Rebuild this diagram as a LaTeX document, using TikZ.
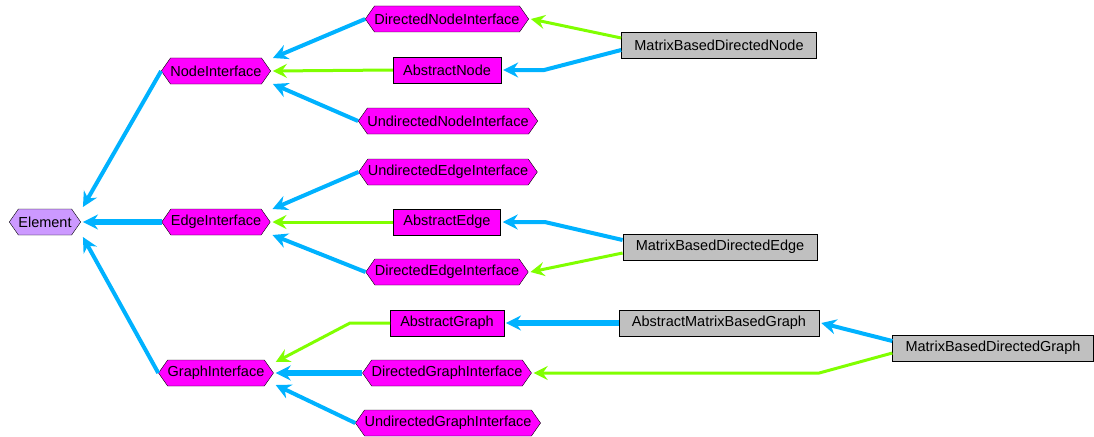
\documentclass[tikz,border=0pt]{standalone}
\usepackage{fontspec}
\setmainfont{Liberation Sans}
\usetikzlibrary{shapes.symbols,arrows.meta}

\definecolor{ifacefill}{HTML}{FF00FF}
\definecolor{rootfill}{HTML}{CC99FF}
\definecolor{implfill}{HTML}{C0C0C0}
\definecolor{extcol}{HTML}{00B2FF}
\definecolor{impcol}{HTML}{80FF00}

\begin{document}
\begin{tikzpicture}[x=1pt,y=-1pt,
  font=\fontsize{14.5}{17}\selectfont,
  iface/.style={signal, signal to=west and east, signal pointer angle=110,
    draw, fill=ifacefill, minimum height=26pt, inner xsep=0pt, inner ysep=0pt},
  root/.style={iface, fill=rootfill},
  abstr/.style={rectangle, draw, fill=ifacefill, minimum height=26pt, inner xsep=10pt},
  impl/.style={rectangle, draw, fill=implfill, minimum height=26pt, inner xsep=13pt},
  ext/.style={draw=extcol, line width=4pt, -{Stealth[length=15pt,width=15pt,inset=5pt]}},
  extthick/.style={ext, line width=6pt},
  imp/.style={draw=impcol, line width=3pt, -{Stealth[length=14pt,width=14pt,inset=5pt]}}]

  \useasboundingbox (0,0) rectangle (1094,436);

  % interfaces
  \node[root]  (Element)                  at (45,222)  {Element};
  \node[iface] (NodeInterface)            at (216,71)  {NodeInterface};
  \node[iface] (EdgeInterface)            at (216,222) {EdgeInterface};
  \node[iface] (GraphInterface)           at (216,373) {GraphInterface};
  \node[iface] (DirectedNodeInterface)    at (447,19)  {DirectedNodeInterface};
  \node[iface] (UndirectedNodeInterface)  at (448,121) {UndirectedNodeInterface};
  \node[iface] (UndirectedEdgeInterface)  at (448,172) {UndirectedEdgeInterface};
  \node[iface] (DirectedEdgeInterface)    at (447,272) {DirectedEdgeInterface};
  \node[iface] (DirectedGraphInterface)   at (447,373) {DirectedGraphInterface};
  \node[iface] (UndirectedGraphInterface) at (448,423) {UndirectedGraphInterface};

  % abstract classes
  \node[abstr] (AbstractNode)  at (447,70)  {AbstractNode};
  \node[abstr] (AbstractEdge)  at (447,222) {AbstractEdge};
  \node[abstr] (AbstractGraph) at (447,323) {AbstractGraph};

  % implementations
  \node[impl] (MatrixBasedDirectedNode)  at (719,45)  {MatrixBasedDirectedNode};
  \node[impl] (MatrixBasedDirectedEdge)  at (720,247) {MatrixBasedDirectedEdge};
  \node[impl] (AbstractMatrixBasedGraph) at (719,323) {AbstractMatrixBasedGraph};
  \node[impl] (MatrixBasedDirectedGraph) at (993,348) {MatrixBasedDirectedGraph};

  % to Element
  \draw[ext] (NodeInterface.west) -- ([xshift=2pt,yshift=15pt]Element.east);
  \draw[extthick] (EdgeInterface.west) -- ([xshift=2pt]Element.east);
  \draw[ext] (GraphInterface.west) -- ([xshift=2pt,yshift=-15pt]Element.east);

  % node part
  \draw[ext] (DirectedNodeInterface.west) -- ([xshift=2pt,yshift=13pt]NodeInterface.east);
  \draw[imp] (AbstractNode.west) -- ([xshift=2pt]NodeInterface.east);
  \draw[ext] (UndirectedNodeInterface.west) -- ([xshift=2pt,yshift=-13pt]NodeInterface.east);
  \draw[imp] ([yshift=7pt]MatrixBasedDirectedNode.west) -- ([xshift=2pt]DirectedNodeInterface.east);
  \draw[ext] ([yshift=-5pt]MatrixBasedDirectedNode.west)
    -- ([xshift=43pt]AbstractNode.east) -- ([xshift=2pt]AbstractNode.east);

  % edge part
  \draw[ext] (UndirectedEdgeInterface.west) -- ([xshift=2pt,yshift=13pt]EdgeInterface.east);
  \draw[imp] (AbstractEdge.west) -- ([xshift=2pt]EdgeInterface.east);
  \draw[ext] (DirectedEdgeInterface.west) -- ([xshift=2pt,yshift=-13pt]EdgeInterface.east);
  \draw[ext] ([yshift=7pt]MatrixBasedDirectedEdge.west)
    -- ([xshift=44pt]AbstractEdge.east) -- ([xshift=2pt]AbstractEdge.east);
  \draw[imp] ([yshift=-6pt]MatrixBasedDirectedEdge.west) -- ([xshift=2pt]DirectedEdgeInterface.east);

  % graph part
  \draw[imp] (AbstractGraph.west) -- ([xshift=-40pt]AbstractGraph.west)
    -- ([xshift=2pt,yshift=11pt]GraphInterface.east);
  \draw[extthick] (DirectedGraphInterface.west) -- ([xshift=2pt]GraphInterface.east);
  \draw[ext] (UndirectedGraphInterface.west) -- ([xshift=2pt,yshift=-12pt]GraphInterface.east);
  \draw[extthick] (AbstractMatrixBasedGraph.west) -- ([xshift=2pt]AbstractGraph.east);
  \draw[ext] ([yshift=7pt]MatrixBasedDirectedGraph.west) -- ([xshift=2pt]AbstractMatrixBasedGraph.east);
  \draw[imp] ([yshift=-5pt]MatrixBasedDirectedGraph.west)
    -- (AbstractMatrixBasedGraph.east |- DirectedGraphInterface.east)
    -- ([xshift=2pt]DirectedGraphInterface.east);
\end{tikzpicture}
\end{document}
